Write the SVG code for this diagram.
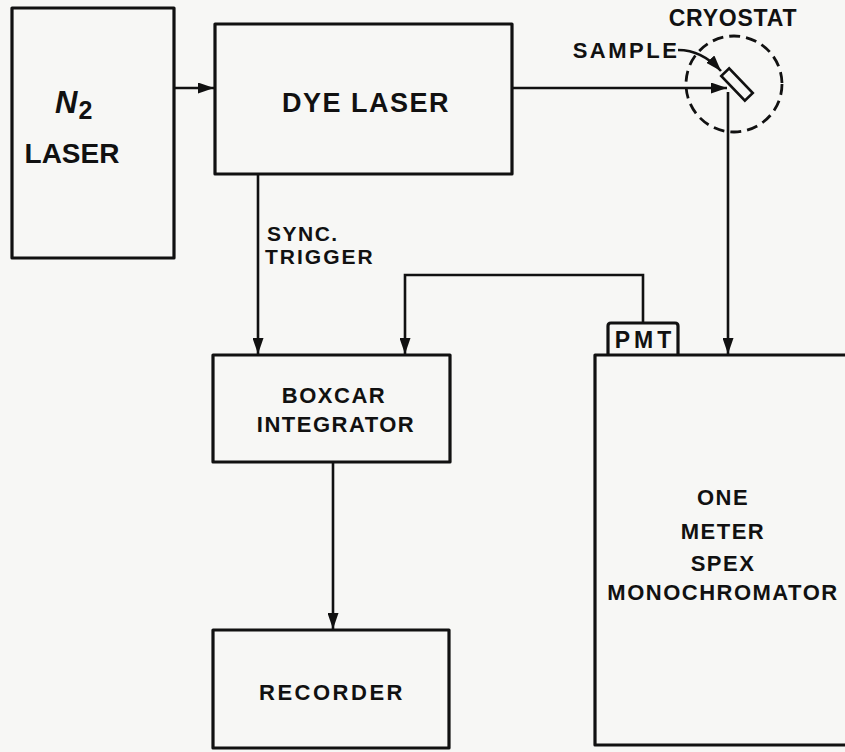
<svg xmlns="http://www.w3.org/2000/svg" width="845" height="752" viewBox="0 0 845 752">
<defs>
<style>
.box{fill:none;stroke:#111;stroke-width:3.2;stroke-linejoin:round}
.ln{fill:none;stroke:#111;stroke-width:2.6}
.t{font-family:"Liberation Sans",Arial,sans-serif;font-weight:bold;fill:#111;text-anchor:middle}
.s{text-anchor:start}
</style>
<marker id="ah" viewBox="0 0 16 11" refX="16" refY="5.5" markerWidth="16" markerHeight="11" markerUnits="userSpaceOnUse" orient="auto">
<path d="M0,0 L16,5.5 L0,11 Z" fill="#111"/>
</marker>
</defs>
<rect width="845" height="752" fill="#f7f7f5"/>
<g id="n2laser">
<rect class="box" x="12" y="8" width="162" height="250"/>
<text class="t s" x="55" y="113" font-size="31" font-style="italic">N<tspan font-size="25" dy="6" dx="1" font-style="normal">2</tspan></text>
<text class="t" x="72" y="163" font-size="28">LASER</text>
</g>
<g id="dyelaser">
<rect class="box" x="215" y="24" width="297" height="150"/>
<text class="t" x="366" y="112" font-size="27" letter-spacing="1.5">DYE LASER</text>
</g>
<g id="cryostat">
<circle cx="734" cy="84" r="48" fill="none" stroke="#111" stroke-width="2.8" stroke-dasharray="11 6"/>
<rect x="720" y="79" width="34" height="11" fill="none" stroke="#111" stroke-width="2.6" transform="rotate(46 737 84.5)"/>
<text class="t" x="733" y="26" font-size="23" letter-spacing="0.8">CRYOSTAT</text>
<text class="t" x="626" y="58" font-size="22" letter-spacing="2.5">SAMPLE</text>
</g>
<g id="boxcar">
<rect class="box" x="213" y="355" width="237" height="107"/>
<text class="t" x="334" y="403" font-size="22" letter-spacing="1.5">BOXCAR</text>
<text class="t" x="336" y="432" font-size="22" letter-spacing="1.5">INTEGRATOR</text>
</g>
<g id="recorder">
<rect class="box" x="213" y="630" width="236" height="118"/>
<text class="t" x="332" y="700" font-size="22" letter-spacing="2.5">RECORDER</text>
</g>
<g id="pmt">
<path class="box" d="M608,355 V326 Q608,323 611,323 H675 Q678,323 678,326 V355"/>
<text class="t" x="645" y="348" font-size="23" letter-spacing="4">PMT</text>
</g>
<g id="monochromator">
<path class="box" d="M850,355 H595 V745 H850"/>
<text class="t" x="723" y="505" font-size="22" letter-spacing="1.5">ONE</text>
<text class="t" x="723" y="539" font-size="22" letter-spacing="1.5">METER</text>
<text class="t" x="723" y="571" font-size="22" letter-spacing="1.5">SPEX</text>
<text class="t" x="723" y="600" font-size="22" letter-spacing="1.5">MONOCHROMATOR</text>
</g>
<g id="connectors">
<line class="ln" x1="174" y1="88" x2="214" y2="88" marker-end="url(#ah)"/>
<line class="ln" x1="512" y1="88" x2="727" y2="88" marker-end="url(#ah)"/>
<path class="ln" d="M678,50 Q702,50 721,71" marker-end="url(#ah)"/>
<line class="ln" x1="728" y1="92" x2="728" y2="354" marker-end="url(#ah)"/>
<line class="ln" x1="258" y1="174" x2="258" y2="354" marker-end="url(#ah)"/>
<path class="ln" d="M643,323 V275 H405 V354" marker-end="url(#ah)"/>
<line class="ln" x1="333" y1="462" x2="333" y2="629" marker-end="url(#ah)"/>
<text class="t s" x="267" y="241" font-size="21" letter-spacing="1.5">SYNC.</text>
<text class="t s" x="265" y="264" font-size="21" letter-spacing="2">TRIGGER</text>
</g>
</svg>
